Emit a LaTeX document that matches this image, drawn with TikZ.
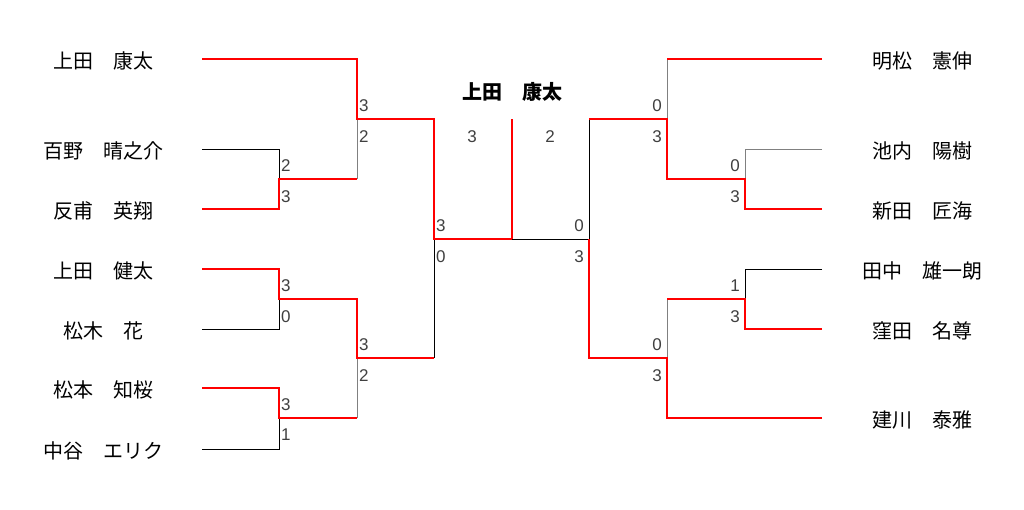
\documentclass[tikz,border=0pt]{standalone}
\usepackage{fontspec}
\setmainfont{Liberation Sans}
\newfontfamily\jpfont{Noto Sans CJK JP}
\usepackage{tikz}
\usetikzlibrary{positioning}
\definecolor{winred}{RGB}{255,0,0}
\definecolor{losegray}{RGB}{128,128,128}
\definecolor{scoregray}{RGB}{64,64,64}

\tikzset{
  player/.style={font=\jpfont\fontsize{20}{24}\selectfont, inner sep=0pt},
  champ/.style={font=\jpfont\bfseries\fontsize{20}{24}\selectfont, inner sep=0pt},
  score/.style={font=\fontsize{17}{20}\selectfont, text=scoregray, inner sep=0pt},
  win/.style={draw=winred, line width=2pt},
  lose/.style={draw=black, line width=1pt},
  loseg/.style={draw=losegray, line width=1pt},
}

\begin{document}
\begin{tikzpicture}[x=1pt,y=-1pt]
  \useasboundingbox[fill=white] (0,0) rectangle (1024,509);

  % players, left and right
  \foreach \name/\y [count=\i] in {上田　康太/59,百野　晴之介/149,反甫　英翔/209,
      上田　健太/269,松木　花/329,松本　知桜/388,中谷　エリク/449}
    {\node[player] (L\i) at (103,\y+2) {\name};
     \coordinate (l\i) at (202,\y);}
  \foreach \name/\y [count=\i] in {明松　憲伸/59,池内　陽樹/149,新田　匠海/209,
      田中　雄一朗/269,窪田　名尊/329,建川　泰雅/418}
    {\node[player] (R\i) at (922,\y+2) {\name};
     \coordinate (r\i) at (822,\y);}

  % junctions
  \coordinate (jA) at (279,179);
  \coordinate (jB) at (279,299);
  \coordinate (jC) at (279,418);
  \coordinate (jD) at (357,119);
  \coordinate (jE) at (357,358);
  \coordinate (jF) at (434,239);
  \coordinate (jM) at (512,239);
  \coordinate (jT) at (512,119);
  \coordinate (kA) at (745,179);
  \coordinate (kB) at (745,299);
  \coordinate (kC) at (667,119);
  \coordinate (kD) at (667,358);
  \coordinate (kF) at (589,239);

  % left half
  \draw[lose] (l2) -| (jA);
  \draw[lose] (l5) -| (jB);
  \draw[lose] (l7) -| (jC);
  \draw[loseg] (jD) -- (jA -| jD);
  \draw[loseg] (jE) -- (jC -| jE);
  \draw[lose] (jE -| jF) -- (jF);
  \draw[win] (l1) -| (jD) -| (jF) -- (jM) -- (jT);
  \draw[win] (l3) -| (jA) -- (jA -| jD);
  \draw[win] (l4) -| (jB) -| (jE) -- (jE -| jF);
  \draw[win] (l6) -| (jC) -- (jC -| jE);

  % right half
  \draw[lose] (jM) -- (kF);
  \draw[lose] (kC -| kF) -- (kF);
  \draw[loseg] (r1 -| kC) -- (kC);
  \draw[loseg] (r2) -| (kA);
  \draw[lose] (r4) -| (kB);
  \draw[loseg] (kB -| kD) -- (kD);
  \draw[win] (r1) -- (r1 -| kC);
  \draw[win] (r3) -| (kA) -| (kC) -- (kC -| kF);
  \draw[win] (r5) -| (kB) -- (kB -| kD);
  \draw[win] (r6) -| (kD) -| (kF);

  % winner
  \node[champ] (win) at (512,92) {上田　康太};
  \node[score] (fL) at (472,137) {3};
  \node[score] (fR) at (550,137) {2};

  % scores
  \node[score, above right=7pt and 2pt of jD] (sD1) {3};
  \node[score, below right=11pt and 2pt of jD] (sD2) {2};
  \node[score, above right=7pt and 2pt of jA] (sA1) {2};
  \node[score, below right=11pt and 2pt of jA] (sA2) {3};
  \node[score, above right=7pt and 2pt of jB] (sB1) {3};
  \node[score, below right=11pt and 2pt of jB] (sB2) {0};
  \node[score, above right=7pt and 2pt of jE] (sE1) {3};
  \node[score, below right=11pt and 2pt of jE] (sE2) {2};
  \node[score, above right=7pt and 2pt of jC] (sC1) {3};
  \node[score, below right=11pt and 2pt of jC] (sC2) {1};
  \node[score, above right=7pt and 2pt of jF] (sF1) {3};
  \node[score, below right=11pt and 2pt of jF] (sF2) {0};
  \node[score, above left=7pt and 5pt of kC] (tC1) {0};
  \node[score, below left=11pt and 5pt of kC] (tC2) {3};
  \node[score, above left=7pt and 5pt of kA] (tA1) {0};
  \node[score, below left=11pt and 5pt of kA] (tA2) {3};
  \node[score, above left=7pt and 5pt of kF] (tF1) {0};
  \node[score, below left=11pt and 5pt of kF] (tF2) {3};
  \node[score, above left=7pt and 5pt of kB] (tB1) {1};
  \node[score, below left=11pt and 5pt of kB] (tB2) {3};
  \node[score, above left=7pt and 5pt of kD] (tD1) {0};
  \node[score, below left=11pt and 5pt of kD] (tD2) {3};
\end{tikzpicture}
\end{document}
